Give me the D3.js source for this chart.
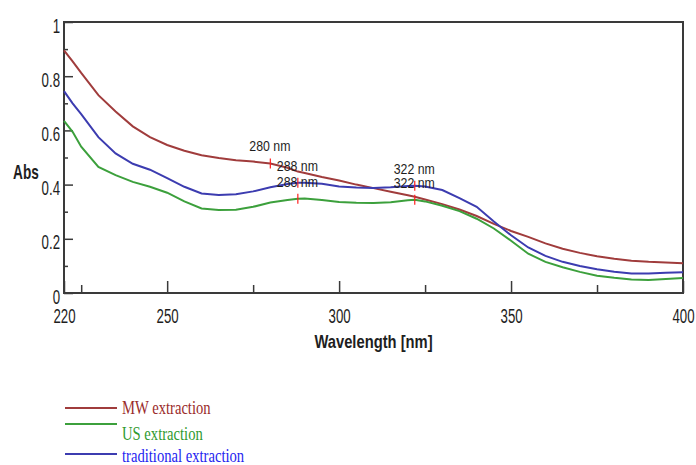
<!DOCTYPE html>
<html>
<head>
<meta charset="utf-8">
<script src="https://cdn.jsdelivr.net/npm/d3@7"></script>
<style>
body { margin: 0; background: #fff; }
svg { display: block; }
</style>
</head>
<body>
<svg id="chart"></svg>
<script>
'use strict';

let WIDTH = 696;
let HEIGHT = 465;

// wavelength grid (nm) shared by all three spectra
let wavelengths = [220, 222.5, 225, 230, 235, 240, 245, 250, 255, 260, 265, 270, 275, 280, 285, 288, 290,
    295, 300, 305, 310, 315, 320, 322, 325, 330, 335, 340, 345, 350, 355, 360, 365, 370, 375, 380, 385, 390, 395, 400];

let mwAbs = [0.895, 0.855, 0.812, 0.73, 0.67, 0.615, 0.575, 0.546, 0.525, 0.508, 0.498, 0.49, 0.485, 0.478, 0.462, 0.448, 0.443,
    0.428, 0.415, 0.400, 0.387, 0.374, 0.361, 0.355, 0.345, 0.328, 0.308, 0.284, 0.255, 0.229, 0.207, 0.183, 0.163, 0.148, 0.136, 0.126, 0.119, 0.115, 0.113, 0.11];
let usAbs = [0.635, 0.595, 0.54, 0.465, 0.435, 0.41, 0.392, 0.37, 0.338, 0.312, 0.306, 0.307, 0.318, 0.334, 0.343, 0.348, 0.349,
    0.343, 0.336, 0.333, 0.332, 0.335, 0.342, 0.344, 0.338, 0.322, 0.302, 0.274, 0.238, 0.193, 0.145, 0.115, 0.095, 0.078, 0.064, 0.056, 0.05, 0.048, 0.052, 0.055];
let tradAbs = [0.745, 0.70, 0.66, 0.575, 0.515, 0.477, 0.455, 0.424, 0.392, 0.367, 0.362, 0.364, 0.375, 0.39, 0.402, 0.407, 0.407,
    0.403, 0.393, 0.389, 0.387, 0.390, 0.395, 0.396, 0.393, 0.38, 0.35, 0.318, 0.264, 0.213, 0.168, 0.137, 0.115, 0.1, 0.088, 0.078, 0.072, 0.072, 0.075, 0.077];

let seriesNames = ['MW extraction', 'US extraction', 'traditional extraction'];
let seriesValues = [mwAbs, usAbs, tradAbs];

// peak markers: [wavelength, series index]
let peakNm = [280, 288, 288, 322, 322];
let peakSeries = [0, 2, 1, 2, 1];

let xMajorTicks = [220, 250, 300, 350, 400];
let xMinorTicks = [225, 275, 325, 375];
let yMajorTicks = [0, 0.2, 0.4, 0.6, 0.8, 1];
let yMinorTicks = [0.1, 0.3, 0.5, 0.7, 0.9];

let COLOR = {
    LINES: ['#a03c3c', '#3ca03c', '#3c3cb0'],
    LEGEND_TEXT: ['#9a2b2b', '#2f9a2f', '#2424f0'],
    FRAME: '#3a3a3a',
    TEXT: '#1e1e1e',
    MARK: '#ff2020'
};

let PLOT = { left: 64, right: 683, top: 22, bottom: 293 };

let svg = d3.select('#chart').attr('width', WIDTH).attr('height', HEIGHT);
svg.append('rect').attr('width', WIDTH).attr('height', HEIGHT).attr('fill', '#fff');

let x = d3.scaleLinear().domain([220, 400]).range([PLOT.left, PLOT.right]);
let y = d3.scaleLinear().domain([0, 1]).range([PLOT.bottom, PLOT.top]);

// the reference text looks squeezed horizontally, so labels get a scaleX
function squeeze(sel, sx) {
    sel.attr('transform', 'scale(' + sx + ',1)');
}

// x axis: major ticks + labels, minor ticks, all pointing into the plot
let gx = svg.append('g').attr('transform', 'translate(0,' + PLOT.bottom + ')');
gx.call(d3.axisBottom(x).tickValues(xMajorTicks).tickSize(-12).tickFormat(d3.format('d')));
gx.append('g').call(d3.axisBottom(x).tickValues(xMinorTicks).tickSize(-8).tickFormat(''));
gx.selectAll('.domain').remove();
gx.selectAll('line').attr('stroke', COLOR.FRAME).attr('stroke-width', 1.5);
gx.selectAll('text')
    .attr('y', 30).attr('dy', null)
    .attr('fill', COLOR.TEXT)
    .style('font-family', '"Liberation Sans", Arial, sans-serif')
    .style('font-size', '19.5px')
    .call(squeeze, 0.68);

// y axis
let SX_Y = 0.68;
let gy = svg.append('g').attr('transform', 'translate(' + PLOT.left + ',0)');
gy.call(d3.axisLeft(y).tickValues(yMajorTicks).tickSize(-9).tickFormat(d3.format('~g')));
gy.append('g').call(d3.axisLeft(y).tickValues(yMinorTicks).tickSize(-4).tickFormat(''));
gy.selectAll('.domain').remove();
gy.selectAll('line').attr('stroke', COLOR.FRAME).attr('stroke-width', 1.5);
gy.selectAll('text')
    .attr('x', -4 / SX_Y).attr('y', 10).attr('dy', null)
    .attr('text-anchor', 'end')
    .attr('fill', COLOR.TEXT)
    .style('font-family', '"Liberation Sans", Arial, sans-serif')
    .style('font-size', '19.5px')
    .call(squeeze, SX_Y);

// frame
svg.append('rect')
    .attr('x', PLOT.left).attr('y', PLOT.top)
    .attr('width', PLOT.right - PLOT.left).attr('height', PLOT.bottom - PLOT.top)
    .attr('fill', 'none').attr('stroke', COLOR.FRAME).attr('stroke-width', 2);

// axis titles
svg.append('g').attr('transform', 'translate(26,179)')
    .append('text')
    .attr('text-anchor', 'middle')
    .attr('fill', COLOR.TEXT)
    .style('font-family', '"Liberation Sans", Arial, sans-serif')
    .style('font-size', '19.5px').style('font-weight', 'bold')
    .text('Abs')
    .call(squeeze, 0.7);

svg.append('g').attr('transform', 'translate(' + ((PLOT.left + PLOT.right) / 2 + 0) + ',348)')
    .append('text')
    .attr('text-anchor', 'middle')
    .attr('fill', COLOR.TEXT)
    .style('font-family', '"Liberation Sans", Arial, sans-serif')
    .style('font-size', '18px').style('font-weight', 'bold')
    .text('Wavelength [nm]')
    .call(squeeze, 0.82);

// spectra
let line = d3.line()
    .x(function(d, i) { return x(wavelengths[i]); })
    .y(function(d) { return y(d); });

svg.append('g').selectAll('path')
    .data(seriesValues)
    .enter()
    .append('path')
    .attr('d', line)
    .attr('fill', 'none')
    .attr('stroke', function(d, i) { return COLOR.LINES[i]; })
    .attr('stroke-width', 2);

// peak marks and labels
let peaks = peakNm.map(function(nm, i) {
    let s = peakSeries[i];
    return { nm: nm, v: seriesValues[s][wavelengths.indexOf(nm)] };
});

let gp = svg.append('g');
gp.selectAll('line')
    .data(peaks)
    .enter()
    .append('line')
    .attr('x1', function(d) { return x(d.nm); })
    .attr('x2', function(d) { return x(d.nm); })
    .attr('y1', function(d) { return y(d.v) - 5; })
    .attr('y2', function(d) { return y(d.v) + 5; })
    .attr('stroke', COLOR.MARK)
    .attr('stroke-width', 1.2);

gp.selectAll('g.lbl')
    .data(peaks)
    .enter()
    .append('g')
    .attr('class', 'lbl')
    .attr('transform', function(d) { return 'translate(' + (x(d.nm) - 21) + ',' + (y(d.v) - 12) + ')'; })
    .append('text')
    .attr('fill', COLOR.TEXT)
    .style('font-family', '"Liberation Sans", Arial, sans-serif')
    .style('font-size', '14px')
    .text(function(d) { return d.nm + ' nm'; })
    .call(squeeze, 0.88);

// legend below the chart
let LEGEND_LINE_Y = [408, 424, 454];
let LEGEND_TEXT_Y = [414, 440, 462];
let gl = svg.append('g');
seriesNames.forEach(function(name, i) {
    gl.append('line')
        .attr('x1', 65).attr('x2', 117)
        .attr('y1', LEGEND_LINE_Y[i]).attr('y2', LEGEND_LINE_Y[i])
        .attr('stroke', COLOR.LINES[i])
        .attr('stroke-width', 2);
    gl.append('g').attr('transform', 'translate(122,' + LEGEND_TEXT_Y[i] + ')')
        .append('text')
        .attr('fill', COLOR.LEGEND_TEXT[i])
        .style('font-family', '"Liberation Serif", "Times New Roman", serif')
        .style('font-size', '19px')
        .text(name)
        .call(squeeze, 0.77);
});
</script>
</body>
</html>
